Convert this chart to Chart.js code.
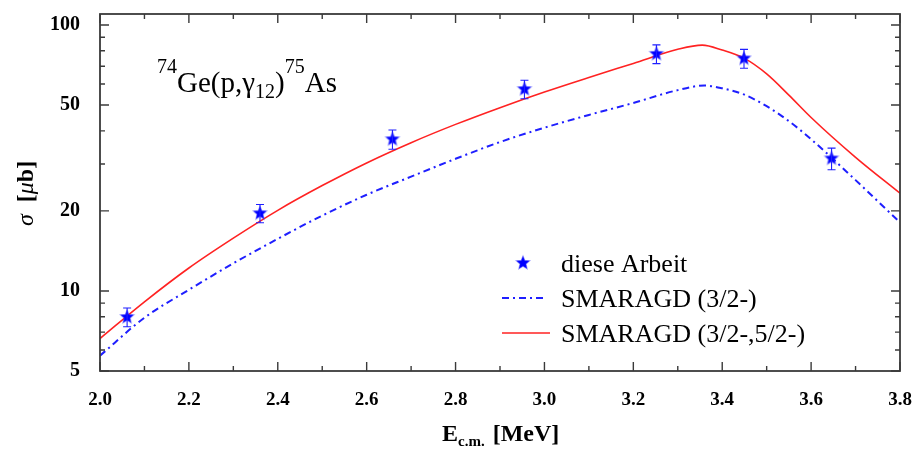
<!DOCTYPE html>
<html>
<head>
<meta charset="utf-8">
<script src="https://cdn.jsdelivr.net/npm/chart.js@4.4.1/dist/chart.umd.min.js"></script>
<style>
  html, body { margin: 0; padding: 0; background: #fff; }
  #wrap { width: 916px; height: 449px; }
</style>
</head>
<body>
<div id="wrap"><canvas id="sigma" width="916" height="449"></canvas></div>
<script>
// measured points (diese Arbeit)
var energyExp = [2.061, 2.360, 2.658, 2.955, 3.252, 3.449, 3.646];
var sigmaExp  = [7.98, 19.6, 37.2, 57.4, 77.9, 74.9, 31.5];
var sigmaErr  = [0.65, 1.55, 3.1, 4.6, 6.3, 6.1, 2.95];

// SMARAGD (3/2-)
var energyA = [2.0, 2.1, 2.2, 2.3, 2.4, 2.5, 2.6, 2.7, 2.8, 2.9, 3.0, 3.1, 3.2, 3.3, 3.36, 3.4, 3.45, 3.5, 3.55, 3.6, 3.7, 3.8];
var sigmaA  = [5.71, 7.93, 10.1, 12.7, 15.7, 19.2, 23.0, 26.9, 31.4, 36.3, 41.1, 45.9, 50.9, 56.9, 59.2, 57.8, 54.7, 49.5, 43.5, 37.2, 26.1, 18.1];

// SMARAGD (3/2-,5/2-)
var energyB = [2.0, 2.1, 2.2, 2.3, 2.4, 2.5, 2.6, 2.7, 2.8, 2.9, 3.0, 3.1, 3.2, 3.3, 3.355, 3.4, 3.45, 3.5, 3.55, 3.6, 3.7, 3.8];
var sigmaB  = [6.62, 9.1, 12.2, 15.8, 20.1, 24.9, 30.3, 36.1, 42.3, 48.9, 56.0, 63.5, 71.7, 81.0, 84.0, 80.5, 74.9, 65.5, 54.5, 44.9, 31.8, 23.3];

var xTickLabels = [2.0, 2.2, 2.4, 2.6, 2.8, 3.0, 3.2, 3.4, 3.6, 3.8];
var yTickLabels = [5, 10, 20, 50, 100];
var yMinorTicks = [6, 7, 8, 9, 30, 40, 60, 70, 80, 90];

var labels = ['diese Arbeit', 'SMARAGD (3/2-)', 'SMARAGD (3/2-,5/2-)'];

var RED = '#ff2222';
var BLUE = '#1f1fff';
var SERIF = '"Liberation Serif", "DejaVu Serif", serif';

function pairs(xs, ys) {
  return xs.map(function (x, i) { return { x: x, y: ys[i] }; });
}

// filled five-point star used as point marker
function makeStar(r) {
  var c = document.createElement('canvas');
  var s = Math.ceil(r * 2 + 4);
  c.width = s; c.height = s;
  var g = c.getContext('2d');
  g.translate(s / 2, s / 2);
  g.beginPath();
  for (var i = 0; i < 10; i++) {
    var rad = i % 2 === 0 ? r : r * 0.45;
    var a = -Math.PI / 2 + i * Math.PI / 5;
    g.lineTo(rad * Math.cos(a), rad * Math.sin(a));
  }
  g.closePath();
  g.fillStyle = '#0000ff';
  g.fill();
  g.strokeStyle = 'rgba(60,60,255,0.45)';
  g.lineWidth = 1.2;
  g.stroke();
  return c;
}
var starImg = makeStar(7);

// draws a run of [text, font, dy] pieces left to right
function drawRuns(ctx, x, y, runs) {
  runs.forEach(function (r) {
    ctx.font = r[1];
    ctx.fillText(r[0], x, y + (r[2] || 0));
    x += ctx.measureText(r[0]).width;
  });
  return x;
}

var framePlugin = {
  id: 'frame',
  afterDatasetsDraw: function (chart) {
    var ctx = chart.ctx, xs = chart.scales.x, ys = chart.scales.y;
    ctx.save();
    ctx.strokeStyle = BLUE;
    ctx.lineWidth = 1.1;
    energyExp.forEach(function (e, i) {
      var px = xs.getPixelForValue(e);
      var top = ys.getPixelForValue(sigmaExp[i] + sigmaErr[i]);
      var bot = ys.getPixelForValue(sigmaExp[i] - sigmaErr[i]);
      ctx.beginPath();
      ctx.moveTo(px, top); ctx.lineTo(px, bot);
      ctx.moveTo(px - 4, top); ctx.lineTo(px + 4, top);
      ctx.moveTo(px - 4, bot); ctx.lineTo(px + 4, bot);
      ctx.stroke();
    });
    ctx.restore();
  },
  afterDraw: function (chart) {
    var ctx = chart.ctx, a = chart.chartArea;
    var xs = chart.scales.x, ys = chart.scales.y;
    ctx.save();

    // inward ticks on all four sides
    ctx.strokeStyle = '#3a3a3a';
    ctx.lineWidth = 1.4;
    ctx.beginPath();
    for (var k = 0; k <= 18; k++) {
      var v = 2.0 + k * 0.1;
      var px = xs.getPixelForValue(v);
      var len = k % 2 === 0 ? 9 : 5;
      ctx.moveTo(px, a.bottom); ctx.lineTo(px, a.bottom - len);
      ctx.moveTo(px, a.top); ctx.lineTo(px, a.top + len);
    }
    yTickLabels.concat(yMinorTicks).forEach(function (t) {
      var py = ys.getPixelForValue(t);
      var len = yTickLabels.indexOf(t) >= 0 ? 9 : 5;
      ctx.moveTo(a.left, py); ctx.lineTo(a.left + len, py);
      ctx.moveTo(a.right, py); ctx.lineTo(a.right - len, py);
    });
    ctx.stroke();

    ctx.lineWidth = 1.8;
    ctx.strokeRect(a.left, a.top, a.right - a.left, a.bottom - a.top);

    // reaction label
    ctx.fillStyle = '#000';
    ctx.textBaseline = 'alphabetic';
    ctx.textAlign = 'left';
    var big = '29px ' + SERIF, small = '20px ' + SERIF;
    drawRuns(ctx, 157, 92, [
      ['74', small, -19], ['Ge(p,', big], ['\u03b3', big], ['12', small, 6],
      [')', big], ['75', small, -19], ['As', big]
    ]);

    // x axis title
    var bx = 'bold 24px ' + SERIF;
    var xe = drawRuns(ctx, 442, 441, [['E', bx], ['c.m.', 'bold 15px ' + SERIF, 5]]);
    drawRuns(ctx, xe + 2, 441, [[' [MeV]', bx]]);

    // y axis title
    ctx.save();
    ctx.translate(33, 226);
    ctx.rotate(-Math.PI / 2);
    drawRuns(ctx, 0, 0, [
      ['\u03c3', 'italic 24px ' + SERIF], ['  [', 'bold 24px ' + SERIF],
      ['\u03bc', 'italic 24px ' + SERIF], ['b]', 'bold 24px ' + SERIF]
    ]);
    ctx.restore();

    // legend
    var rows = [272, 307, 342];
    var lf = '26px ' + SERIF;
    chart.data.datasets.forEach(function (ds, i) {
      var cy = rows[i] - 9;
      if (i === 0) {
        ctx.drawImage(starImg, 523 - starImg.width / 2, cy - starImg.height / 2);
      } else {
        ctx.save();
        ctx.strokeStyle = ds.borderColor;
        ctx.lineWidth = ds.borderWidth;
        ctx.setLineDash(ds.borderDash || []);
        ctx.beginPath();
        ctx.moveTo(502, cy); ctx.lineTo(i === 1 ? 544 : 550, cy);
        ctx.stroke();
        ctx.restore();
      }
      ctx.fillStyle = '#000';
      ctx.font = lf;
      ctx.fillText(ds.label, 561, rows[i]);
    });
    ctx.restore();
  }
};

var chart = new Chart(document.getElementById('sigma').getContext('2d'), {
  type: 'scatter',
  data: {
    datasets: [{
      label: labels[0],
      data: pairs(energyExp, sigmaExp),
      pointStyle: starImg,
      showLine: false,
      borderColor: BLUE,
      backgroundColor: BLUE,
      order: 0
    }, {
      label: labels[1],
      data: pairs(energyA, sigmaA),
      showLine: true,
      pointRadius: 0,
      borderColor: BLUE,
      borderWidth: 2,
      borderDash: [7, 4, 2, 4],
      cubicInterpolationMode: 'monotone',
      order: 2
    }, {
      label: labels[2],
      data: pairs(energyB, sigmaB),
      showLine: true,
      pointRadius: 0,
      borderColor: RED,
      borderWidth: 1.6,
      cubicInterpolationMode: 'monotone',
      order: 1
    }]
  },
  options: {
    responsive: false,
    animation: false,
    layout: { padding: { top: 14, right: 16, left: 0, bottom: 0 } },
    plugins: {
      legend: { display: false },
      tooltip: { enabled: false }
    },
    scales: {
      x: {
        type: 'linear',
        min: 2.0,
        max: 3.8,
        grid: { display: false },
        border: { display: false },
        afterBuildTicks: function (scale) {
          scale.ticks = xTickLabels.map(function (v) { return { value: v }; });
        },
        afterFit: function (scale) {
          scale.height = 78;
          scale.paddingLeft = 0;
          scale.paddingRight = 0;
        },
        ticks: {
          color: '#000',
          padding: 10,
          maxRotation: 0,
          font: { family: SERIF, size: 19, weight: 'bold' },
          callback: function (v) { return Number(v).toFixed(1); }
        }
      },
      y: {
        type: 'logarithmic',
        min: 5,
        max: 110,
        grid: { display: false },
        border: { display: false },
        afterBuildTicks: function (scale) {
          scale.ticks = yTickLabels.map(function (v) { return { value: v }; });
        },
        afterFit: function (scale) {
          scale.width = 100;
          scale.paddingTop = 0;
          scale.paddingBottom = 0;
        },
        ticks: {
          color: '#000',
          padding: 12,
          font: { family: SERIF, size: 20, weight: 'bold' },
          callback: function (v) { return String(v); }
        }
      }
    }
  },
  plugins: [framePlugin]
});
</script>
</body>
</html>
